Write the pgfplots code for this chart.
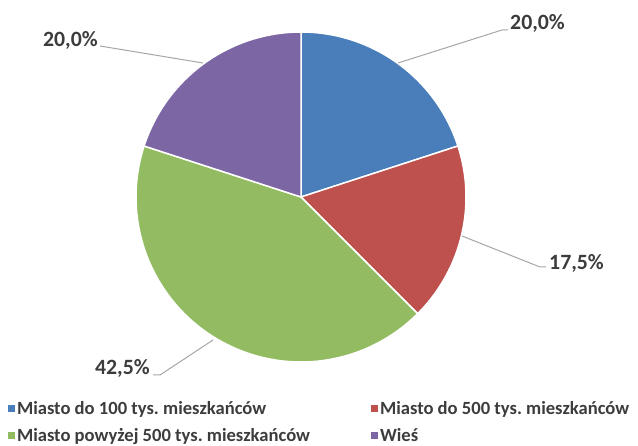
\documentclass[border=0pt]{standalone}
\usepackage{fontspec}
\setmainfont{Carlito}[BoldFont={* Bold}]
\usepackage{pgfplots}
\pgfplotsset{compat=1.18}
\usepackage{pgfplotstable}
\frenchspacing

\definecolor{cA}{HTML}{4A7EBB}
\definecolor{cB}{HTML}{BE504D}
\definecolor{cC}{HTML}{93BC62}
\definecolor{cD}{HTML}{7D66A4}
\definecolor{txt}{HTML}{3C3C3C}
\definecolor{lead}{HTML}{A6A6A6}

\pgfplotstableread{
share
20.0
17.5
42.5
20.0
}\pietable

\begin{document}
\begin{tikzpicture}
\pgfplotstablegetelem{0}{share}\of\pietable \let\vA\pgfplotsretval
\pgfplotstablegetelem{1}{share}\of\pietable \let\vB\pgfplotsretval
\pgfplotstablegetelem{2}{share}\of\pietable \let\vC\pgfplotsretval
\pgfplotstablegetelem{3}{share}\of\pietable \let\vD\pgfplotsretval
\pgfmathsetmacro{\aO}{90}
\pgfmathsetmacro{\aA}{\aO-3.6*\vA}
\pgfmathsetmacro{\aB}{\aA-3.6*\vB}
\pgfmathsetmacro{\aC}{\aB-3.6*\vC}
\pgfmathsetmacro{\aD}{\aC-3.6*\vD}
\def\cx{301}\def\cy{248}\def\R{165}
\begin{axis}[
  hide axis, scale only axis,
  width=638pt, height=445pt,
  xmin=0, xmax=638, ymin=0, ymax=445,
  clip=false,
  legend columns=2,
  legend image code/.code={\fill[#1,draw=none] (0pt,-3.5pt) rectangle (7pt,3.5pt);},
  legend style={at={(axis cs:8,46)}, anchor=north west, draw=none, fill=none,
    inner sep=0pt, outer sep=0pt,
    font=\fontsize{18.6}{22}\selectfont\bfseries, text=txt,
    row sep=8.5pt,
    /tikz/every even column/.append style={column sep=59pt},
    legend cell align=left},
]
\addplot[fill=cA, draw=white, line width=1.5pt, domain=\aA:\aO, samples=90]
  ({\cx+\R*cos(x)},{\cy+\R*sin(x)}) -- (axis cs:\cx,\cy) -- cycle;
\addlegendentry{Miasto do 100 tys. mieszkańców}
\addplot[fill=cB, draw=white, line width=1.5pt, domain=\aB:\aA, samples=90]
  ({\cx+\R*cos(x)},{\cy+\R*sin(x)}) -- (axis cs:\cx,\cy) -- cycle;
\addlegendentry{Miasto do 500 tys. mieszkańców}
\addplot[fill=cC, draw=white, line width=1.5pt, domain=\aC:\aB, samples=150]
  ({\cx+\R*cos(x)},{\cy+\R*sin(x)}) -- (axis cs:\cx,\cy) -- cycle;
\addlegendentry{Miasto powyżej 500 tys. mieszkańców}
\addplot[fill=cD, draw=white, line width=1.5pt, domain=\aD:\aC, samples=90]
  ({\cx+\R*cos(x)},{\cy+\R*sin(x)}) -- (axis cs:\cx,\cy) -- cycle;
\addlegendentry{Wieś}

% leader lines and data labels
\draw[lead, line width=1pt] (axis cs:398,382) -- (axis cs:502,415) -- (axis cs:508,415);
\node[anchor=base west, inner sep=0pt, text=txt, font=\fontsize{21.8}{25}\selectfont\bfseries] at (axis cs:510,415) {20,0\%};
\draw[lead, line width=1pt] (axis cs:462,209) -- (axis cs:540,178) -- (axis cs:546,178);
\node[anchor=base west, inner sep=0pt, text=txt, font=\fontsize{21.8}{25}\selectfont\bfseries] at (axis cs:549,175) {17,5\%};
\draw[lead, line width=1pt] (axis cs:213,105) -- (axis cs:160,70) -- (axis cs:153,70);
\node[anchor=base east, inner sep=0pt, text=txt, font=\fontsize{21.8}{25}\selectfont\bfseries] at (axis cs:150,70) {42,5\%};
\draw[lead, line width=1pt] (axis cs:203,382) -- (axis cs:100,399);
\node[anchor=base east, inner sep=0pt, text=txt, font=\fontsize{21.8}{25}\selectfont\bfseries] at (axis cs:98,398) {20,0\%};
\end{axis}
\pgfresetboundingbox
\path[use as bounding box] (0,0) rectangle (638pt,445pt);
\end{tikzpicture}
\end{document}
